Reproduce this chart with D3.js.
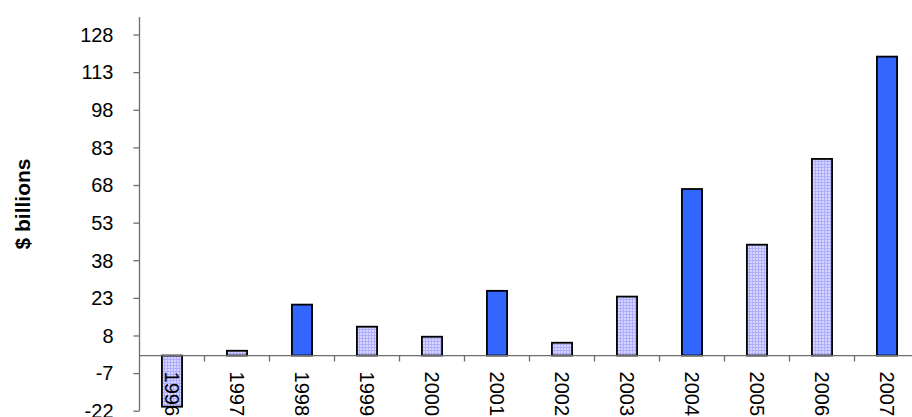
<!DOCTYPE html>
<html>
<head>
<meta charset="utf-8">
<script src="https://cdn.jsdelivr.net/npm/d3@7"></script>
<style>
  body { margin: 0; background: #fff; }
  svg { display: block; font-family: "Liberation Sans", Arial, sans-serif; }
</style>
</head>
<body>
<div id="chart"></div>
<script>
const years = ['1996','1997','1998','1999','2000','2001','2002','2003','2004','2005','2006','2007']
const values = [-20.4, 1.9, 20.3, 11.5, 7.5, 25.8, 5.1, 23.5, 66.4, 44.2, 78.4, 119.2]
// solid blue bars vs dotted lavender bars
const solid = ['1998','2001','2004','2007']
const yTicks = [-22, -7, 8, 23, 38, 53, 68, 83, 98, 113, 128]

const width = 912, height = 417
const plotLeft = 139.5, plotTop = 17, plotBottom = 410.7

const svg = d3.select('#chart').append('svg')
    .attr('width', width)
    .attr('height', height)

// lavender dotted fill
const defs = svg.append('defs')
const pat = defs.append('pattern')
    .attr('id', 'dots')
    .attr('width', 3).attr('height', 3)
    .attr('patternUnits', 'userSpaceOnUse')
pat.append('rect').attr('width', 3).attr('height', 3).attr('fill', '#aeaefc')
pat.append('rect').attr('width', 2).attr('height', 2).attr('fill', '#d6d6ff')

const y = d3.scaleLinear()
    .domain([-22, 135])
    .range([plotBottom, plotTop])

// category slots, each 65px, partly off the right edge like the original
const x = d3.scaleBand()
    .domain(years)
    .range([plotLeft, plotLeft + 65 * years.length])
    .padding(0)

const barW = x.bandwidth() * 0.31

// y axis
const yAxis = svg.append('g')
    .attr('transform', `translate(${plotLeft},0)`)
    .call(d3.axisLeft(y).tickValues(yTicks).tickFormat(d => String(d))
        .tickSize(6).tickPadding(20).tickSizeOuter(0))
yAxis.attr('font-size', null).attr('font-family', null)
yAxis.select('.domain').remove()
yAxis.append('line')
    .attr('y1', plotTop).attr('y2', plotBottom)
    .attr('stroke', '#6e6e6e').attr('stroke-width', 1.3)
yAxis.selectAll('.tick line').attr('stroke', '#6e6e6e').attr('stroke-width', 1.3)
yAxis.selectAll('.tick text')
    .attr('fill', '#000')
    .attr('dy', '0.34em')
    .style('font-size', '20px')

// bars
svg.append('g').selectAll('rect')
    .data(years)
    .enter().append('rect')
    .attr('x', d => x(d) + (x.bandwidth() - barW) / 2)
    .attr('y', (d, i) => y(Math.max(0, values[i])))
    .attr('width', barW)
    .attr('height', (d, i) => Math.abs(y(values[i]) - y(0)))
    .attr('fill', d => solid.includes(d) ? '#3366ff' : 'url(#dots)')
    .attr('stroke', '#000')
    .attr('stroke-width', 1.8)

// x axis at zero
const zeroY = y(0)
const xg = svg.append('g')
xg.append('line')
    .attr('x1', plotLeft).attr('x2', width)
    .attr('y1', zeroY).attr('y2', zeroY)
    .attr('stroke', '#6e6e6e').attr('stroke-width', 1.3)
xg.selectAll('.xtick')
    .data(years.slice(1))
    .enter().append('line')
    .attr('x1', d => x(d)).attr('x2', d => x(d))
    .attr('y1', zeroY).attr('y2', zeroY + 6)
    .attr('stroke', '#6e6e6e').attr('stroke-width', 1.3)

xg.selectAll('.xlabel')
    .data(years)
    .enter().append('text')
    .attr('transform', d => `translate(${x(d) + x.bandwidth() / 2},${zeroY + 16}) rotate(90)`)
    .attr('dy', '0.36em')
    .attr('text-anchor', 'start')
    .style('font-size', '20px')
    .attr('fill', '#000')
    .text(d => d)

// y title
svg.append('text')
    .attr('transform', `translate(22,204) rotate(-90)`)
    .attr('dy', '0.36em')
    .attr('text-anchor', 'middle')
    .style('font-size', '21px')
    .style('font-weight', 'bold')
    .text('$ billions')
</script>
</body>
</html>
